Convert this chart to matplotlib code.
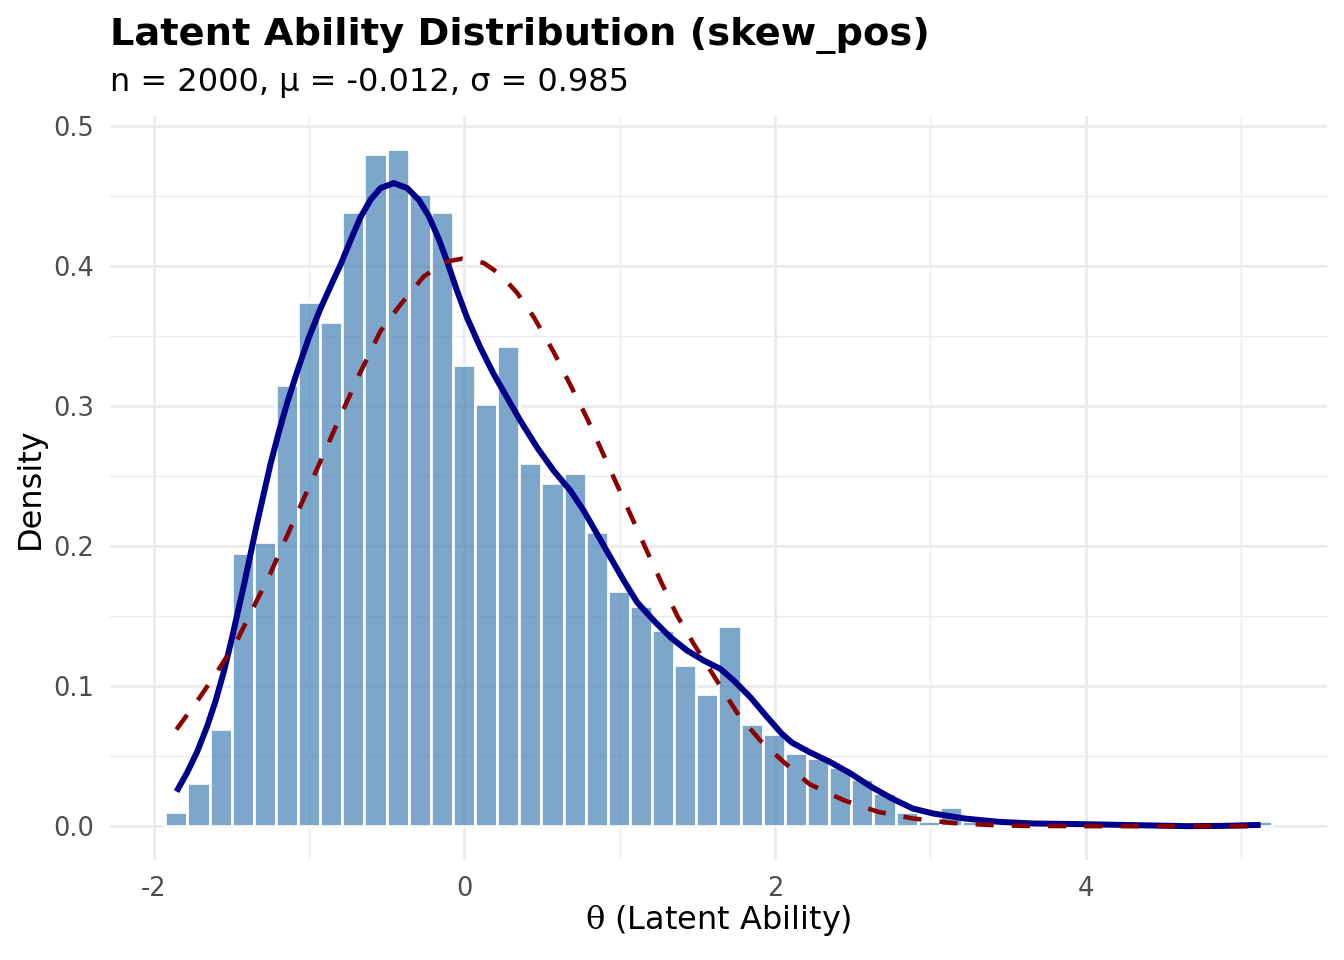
import numpy as np
import matplotlib
matplotlib.use("Agg")
import matplotlib.pyplot as plt

plt.rcParams["mathtext.fontset"] = "dejavuserif"

# histogram (50 bins, density scale), heights
bin_first = -1.855   # centre of first bin
bin_last = 5.126     # centre of last bin
hist_density = [
    0.010, 0.031, 0.069, 0.195, 0.203, 0.315, 0.374, 0.360, 0.438, 0.480,
    0.483, 0.451, 0.438, 0.329, 0.301, 0.343, 0.259, 0.245, 0.252, 0.210,
    0.168, 0.157, 0.140, 0.115, 0.094, 0.143, 0.073, 0.066, 0.052, 0.049,
    0.042, 0.034, 0.024, 0.010, 0.0035, 0.014, 0.0035, 0.0, 0.0, 0.0,
    0.0, 0.0, 0.0, 0.0, 0.0, 0.0, 0.0, 0.0, 0.0, 0.0035,
]

# kernel density estimate (solid navy)
kde_x = [-1.854, -1.786, -1.721, -1.657, -1.603, -1.550, -1.507, -1.464, -1.421,
         -1.378, -1.335, -1.292, -1.249, -1.196, -1.142, -1.077, -1.003, -0.927,
         -0.841, -0.798, -0.734, -0.670, -0.605, -0.541, -0.455, -0.369, -0.294,
         -0.230, -0.165, -0.112, -0.047, 0.017, 0.103, 0.189, 0.275, 0.361,
         0.468, 0.575, 0.683, 0.768, 0.854, 0.940, 1.026, 1.112, 1.219,
         1.326, 1.434, 1.541, 1.648, 1.734, 1.841, 1.949, 2.043, 2.110,
         2.221, 2.354, 2.487, 2.620, 2.753, 2.886, 3.019, 3.218, 3.440,
         3.662, 3.995, 4.328, 4.661, 4.880, 5.126]
kde_y = [0.0247, 0.0382, 0.0532, 0.0712, 0.0892, 0.1101, 0.1296, 0.1506, 0.1716,
         0.1941, 0.2165, 0.2375, 0.2585, 0.2810, 0.3020, 0.3245, 0.3485, 0.3695,
         0.3905, 0.4007, 0.4180, 0.4345, 0.4470, 0.4554, 0.4590, 0.4554, 0.4470,
         0.4355, 0.4189, 0.4031, 0.3818, 0.3628, 0.3414, 0.3225, 0.3058, 0.2892,
         0.2702, 0.2536, 0.2393, 0.2251, 0.2085, 0.1918, 0.1752, 0.1597, 0.1467,
         0.1348, 0.1253, 0.1182, 0.1122, 0.1039, 0.0920, 0.0778, 0.0660, 0.0595,
         0.0529, 0.0458, 0.0375, 0.0280, 0.0197, 0.0126, 0.0090, 0.0055, 0.0031,
         0.0019, 0.0014, 0.0007, 0.0000, 0.0002, 0.0009]

# normal reference curve (dashed dark red)
norm_x = [-1.855, -1.721, -1.593, -1.464, -1.357, -1.249, -1.153, -1.056, -0.959,
          -0.863, -0.777, -0.681, -0.541, -0.412, -0.262, -0.112, -0.015, 0.124,
          0.232, 0.339, 0.447, 0.575, 0.683, 0.790, 0.887, 0.983, 1.080, 1.176,
          1.272, 1.369, 1.476, 1.584, 1.691, 1.766, 1.836, 1.906, 2.043, 2.221,
          2.442, 2.664, 2.886, 3.129, 3.373, 3.595, 3.99, 4.5, 5.126]
norm_y = [0.0690, 0.0892, 0.1101, 0.1326, 0.1566, 0.1806, 0.2046, 0.2286, 0.2526,
          0.2765, 0.2980, 0.3215, 0.3533, 0.3723, 0.3924, 0.4031, 0.4050, 0.4020,
          0.3937, 0.3806, 0.3632, 0.3383, 0.3146, 0.2909, 0.2671, 0.2434, 0.2197, 0.1960,
          0.1729, 0.1503, 0.1301, 0.1111, 0.0921, 0.0791, 0.0700, 0.0610, 0.0470, 0.0300,
          0.0185, 0.0102, 0.0055, 0.0024, 0.0009, 0.0002, 0.0, 0.0, 0.0]

title = "Latent Ability Distribution (skew_pos)"
subtitle = "n = 2000, μ = -0.012, σ = 0.985"
x_label = r"$\mathrm{\theta}$ (Latent Ability)"
y_label = "Density"
x_ticks = [-2, 0, 2, 4]
y_ticks = [0.0, 0.1, 0.2, 0.3, 0.4, 0.5]

W, H = 1344, 960
fig = plt.figure(figsize=(7, 5), dpi=192)
px_l, px_r, px_t, px_b = 110, 1327, 115.6, 860
ax = fig.add_axes([px_l / W, 1 - px_b / H, (px_r - px_l) / W, (px_b - px_t) / H])

n_bins = len(hist_density)
bw = (bin_last - bin_first) / (n_bins - 1)
centers = bin_first + bw * np.arange(n_bins)

ax.bar(centers, hist_density, width=bw, color=(70/255, 130/255, 180/255, 0.7),
       edgecolor="white", linewidth=1.0, zorder=2)
ax.plot(kde_x, kde_y, color="#00008B", lw=2.25, solid_capstyle="butt",
        solid_joinstyle="round", zorder=3)
ax.plot(norm_x, norm_y, color="#8B0000", lw=1.7, dashes=(4, 4),
        dash_capstyle="butt", dash_joinstyle="round", zorder=4)

lo = bin_first - bw / 2
hi = bin_last + bw / 2
pad_x = (hi - lo) * 0.05
ax.set_xlim(lo - pad_x, hi + pad_x)
ymax = max(hist_density)
ax.set_ylim(-ymax * 0.05, ymax * 1.05)

ax.set_xticks(x_ticks)
ax.set_xticklabels([str(t) for t in x_ticks])
ax.set_yticks(y_ticks)
ax.set_yticklabels([f"{t:.1f}" for t in y_ticks])
ax.set_xticks([-1, 1, 3, 5], minor=True)
ax.set_yticks(np.arange(0.05, 0.5, 0.1), minor=True)
ax.grid(which="major", color="#EBEBEB", lw=1.07)
ax.grid(which="minor", color="#EBEBEB", lw=0.53)
ax.set_axisbelow(True)
for s in ax.spines.values():
    s.set_visible(False)
ax.tick_params(which="both", length=0)
ax.tick_params(labelsize=9.6, labelcolor="#4D4D4D", pad=6)

fig.text(px_l / W, 1 - 45 / H, title, fontsize=14.4, fontweight="bold", va="baseline")
fig.text(px_l / W, 1 - 91 / H, subtitle, fontsize=12, va="baseline")
fig.text((px_l + px_r) / 2 / W, 1 - 921 / H, x_label, fontsize=12,
         ha="center", va="center")
fig.text(30 / W, 1 - (px_t + px_b) / 2 / H, y_label, fontsize=12, rotation=90,
         ha="center", va="center")

fig.savefig("out.png", dpi=192)
